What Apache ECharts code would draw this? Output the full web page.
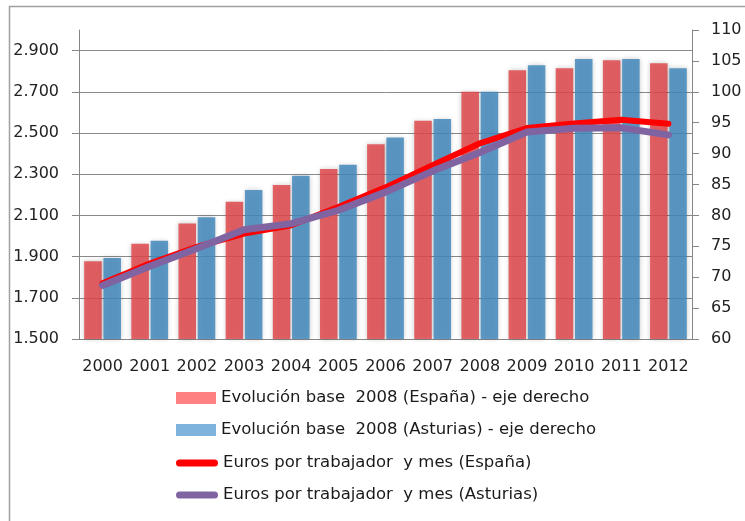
<!DOCTYPE html>
<html>
<head>
<meta charset="utf-8">
<title>Euros por trabajador y mes</title>
<script src="https://cdn.jsdelivr.net/npm/echarts@6/dist/echarts.min.js"></script>
<style>
    html, body { margin: 0; padding: 0; background: #fff; }
    #main { width: 745px; height: 521px; }
</style>
</head>
<body>
<div id="main"></div>
<script>
// datos
var years = ['2000', '2001', '2002', '2003', '2004', '2005', '2006', '2007', '2008', '2009', '2010', '2011', '2012'];
var baseEspana = [72.6, 75.4, 78.7, 82.2, 84.9, 87.5, 91.5, 95.3, 100, 103.5, 103.8, 105.1, 104.6];
var baseAsturias = [73.1, 75.9, 79.7, 84.1, 86.4, 88.2, 92.6, 95.6, 100, 104.3, 105.3, 105.3, 103.8];
var eurosEspana = [1771, 1866, 1947, 2012, 2052, 2141, 2236, 2343, 2450, 2524, 2546, 2564, 2545];
var eurosAsturias = [1760, 1853, 1939, 2030, 2060, 2125, 2213, 2315, 2405, 2505, 2523, 2525, 2491];
var leftTicks = [1500, 1700, 1900, 2100, 2300, 2500, 2700, 2900];

var names = [
    'Evolución base  2008 (España) - eje derecho',
    'Evolución base  2008 (Asturias) - eje derecho',
    'Euros por trabajador  y mes (España)',
    'Euros por trabajador  y mes (Asturias)'
];

var font = 'DejaVu Sans';
var axisGray = '#868686';
var pill = 'path://M3.5,0 L38.5,0 A3.5,3.5 0 0 1 38.5,7 L3.5,7 A3.5,3.5 0 0 1 3.5,0 Z';

var myChart = echarts.init(document.getElementById('main'));

var option = {
    animation: false,
    backgroundColor: '#fff',
    textStyle: { fontFamily: font },
    graphic: [{
        type: 'rect',
        shape: { x: 9.5, y: 6.5, width: 800, height: 600 },
        style: { fill: 'none', stroke: '#a0a0a0', lineWidth: 1.5 },
        silent: true
    }],
    grid: { left: 79, right: 53, top: 30, bottom: 182 },
    legend: [{
        orient: 'vertical',
        left: 176,
        top: 388,
        padding: 0,
        itemWidth: 40,
        itemHeight: 12,
        itemGap: 12,
        textStyle: { fontFamily: font, fontSize: 16.5, color: '#1a1a1a', lineHeight: 20 },
        data: [
            { name: names[0], icon: 'rect', itemStyle: { color: '#FF8080', opacity: 1, shadowBlur: 0 } },
            { name: names[1], icon: 'rect', itemStyle: { color: '#7EB3DE', opacity: 1, shadowBlur: 0 } }
        ]
    }, {
        orient: 'vertical',
        left: 176,
        top: 453,
        padding: 0,
        itemWidth: 42,
        itemHeight: 7,
        itemGap: 12,
        textStyle: { fontFamily: font, fontSize: 16.5, color: '#1a1a1a', lineHeight: 20 },
        data: [
            { name: names[2], icon: pill, itemStyle: { color: '#FF0000' } },
            { name: names[3], icon: pill, itemStyle: { color: '#8064A2' } }
        ]
    }],
    xAxis: {
        type: 'category',
        data: years,
        boundaryGap: true,
        axisLine: { lineStyle: { color: axisGray, width: 1 } },
        axisTick: { length: 6, lineStyle: { color: axisGray } },
        axisLabel: { interval: 0, margin: 20, fontFamily: font, fontSize: 16, color: '#222' },
        splitLine: { show: false }
    },
    yAxis: [{
        type: 'value',
        position: 'left',
        min: 1500,
        max: 3000,
        interval: 100,
        axisLine: { show: true, lineStyle: { color: axisGray } },
        axisTick: { show: true, length: 7, customValues: leftTicks, lineStyle: { color: axisGray } },
        axisLabel: {
            customValues: leftTicks,
            margin: 20,
            fontFamily: font,
            fontSize: 16,
            color: '#222',
            formatter: function(v) {
                return String(v).replace(/(\d)(\d{3})$/, '$1.$2');
            }
        },
        splitLine: { show: false }
    }, {
        type: 'value',
        position: 'right',
        min: 60,
        max: 110,
        interval: 5,
        axisLine: { show: true, lineStyle: { color: axisGray } },
        axisTick: { show: true, length: 7, lineStyle: { color: axisGray } },
        axisLabel: { margin: 19, fontFamily: font, fontSize: 16, color: '#222' },
        splitLine: { show: false }
    }, {
        // solo para las líneas de división (1.500, 1.700 ... 2.900)
        type: 'value',
        position: 'left',
        min: 1500,
        max: 3000,
        interval: 200,
        show: true,
        axisLine: { show: false },
        axisTick: { show: false },
        axisLabel: { show: false },
        splitLine: { show: true, showMaxLine: false, lineStyle: { color: '#8a8a8a', width: 1 } }
    }],
    series: [{
        name: names[0],
        type: 'bar',
        yAxisIndex: 1,
        data: baseEspana,
        barGap: '10%',
        barCategoryGap: '22%',
        itemStyle: {
            color: 'rgba(223,73,77,0.85)',
            shadowBlur: 5,
            shadowColor: 'rgba(0,0,0,0.25)'
        }
    }, {
        name: names[1],
        type: 'bar',
        yAxisIndex: 1,
        data: baseAsturias,
        itemStyle: {
            color: 'rgba(67,137,188,0.85)',
            shadowBlur: 5,
            shadowColor: 'rgba(0,0,0,0.25)'
        }
    }, {
        name: names[2],
        type: 'line',
        yAxisIndex: 0,
        data: eurosEspana,
        symbol: 'none',
        lineStyle: { color: '#FF0000', width: 6, cap: 'round', join: 'round' },
        itemStyle: { color: '#FF0000' }
    }, {
        name: names[3],
        type: 'line',
        yAxisIndex: 0,
        data: eurosAsturias,
        symbol: 'none',
        lineStyle: { color: '#8064A2', width: 7, cap: 'round', join: 'round' },
        itemStyle: { color: '#8064A2' }
    }]
};

myChart.setOption(option);
</script>
</body>
</html>
